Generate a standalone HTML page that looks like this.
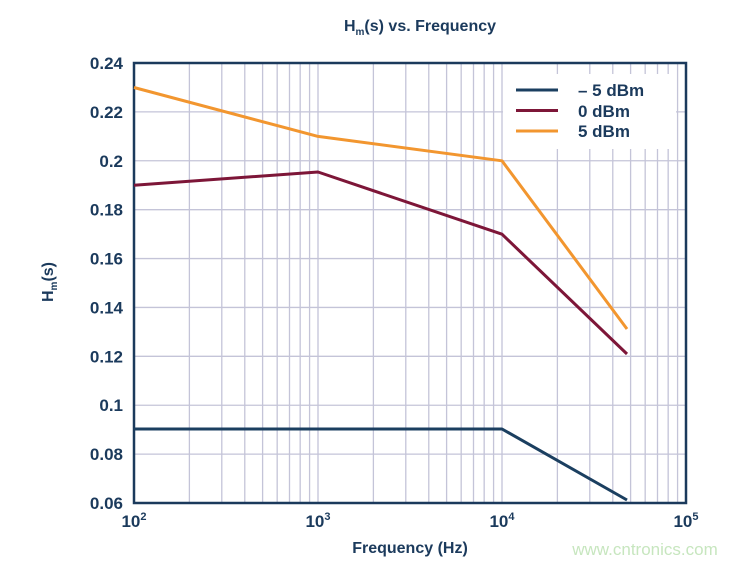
<!DOCTYPE html>
<html><head><style>
body{margin:0;background:#fff;}
svg{display:block;font-family:"Liberation Sans",Arial,sans-serif;font-weight:bold;}
</style></head><body>
<svg id="s" width="755" height="565" viewBox="0 0 755 565" xmlns="http://www.w3.org/2000/svg">
<rect width="755" height="565" fill="#fff"/>
<g id="grid" stroke="#c4c4d8" stroke-width="1.3"></g>
<rect x="503" y="74" width="173" height="75" fill="#fff"/>
<rect x="134" y="63" width="552" height="440" fill="none" stroke="#1b3a5c" stroke-width="2.5"/>
<g fill="none" stroke-width="3" stroke-linejoin="round">
<polyline stroke="#f2962f" points="134,87.5 318,136.4 502,160.8 627,329"/>
<polyline stroke="#7d1638" points="134,185.3 318,172 502,234.2 627,354"/>
<polyline stroke="#1b3f60" points="134,429 318,429 502,429 627,500"/>
</g>
<g stroke-width="3">
<line x1="516" y1="90" x2="558" y2="90" stroke="#1b3f60"/>
<line x1="516" y1="110.5" x2="558" y2="110.5" stroke="#7d1638"/>
<line x1="516" y1="131" x2="558" y2="131" stroke="#f2962f"/>
</g>
<g fill="#1b3a5c" font-size="17">
<text x="578" y="96">– 5 dBm</text>
<text x="578" y="117">0 dBm</text>
<text x="578" y="137">5 dBm</text>
</g>
<g id="yl" fill="#1b3a5c" font-size="17" text-anchor="end"></g>
<g fill="#1b3a5c" font-size="17" text-anchor="middle">
<text x="134" y="527">10<tspan font-size="11" dy="-7">2</tspan></text>
<text x="318" y="527">10<tspan font-size="11" dy="-7">3</tspan></text>
<text x="502" y="527">10<tspan font-size="11" dy="-7">4</tspan></text>
<text x="686" y="527">10<tspan font-size="11" dy="-7">5</tspan></text>
<text x="410" y="553" font-size="16">Frequency (Hz)</text>
<text x="420" y="31" font-size="16">H<tspan font-size="10" dy="4">m</tspan><tspan dy="-4">(s) vs. Frequency</tspan></text>
</g>
<text transform="translate(53,282) rotate(-90)" fill="#1b3a5c" font-size="16" text-anchor="middle">H<tspan font-size="10" dy="4">m</tspan><tspan dy="-4">(s)</tspan></text>
<text x="645" y="555" fill="#c7e6bf" font-size="17" font-weight="normal" text-anchor="middle">www.cntronics.com</text>
</svg>
<script>
var ns="http://www.w3.org/2000/svg",g=document.getElementById("grid"),yl=document.getElementById("yl");
function L(a,b,c,d){var l=document.createElementNS(ns,"line");l.setAttribute("x1",a);l.setAttribute("y1",b);l.setAttribute("x2",c);l.setAttribute("y2",d);g.appendChild(l);}
for(var dcd=0;dcd<3;dcd++){for(var k=1;k<10;k++){var x=134+184*dcd+184*Math.log10(k);L(x,63,x,503);}}
var labs=["0.24","0.22","0.2","0.18","0.16","0.14","0.12","0.1","0.08","0.06"];
for(var i=0;i<10;i++){var y=63+i*440/9;L(134,y,686,y);var t=document.createElementNS(ns,"text");t.setAttribute("x",123);t.setAttribute("y",y+6);t.textContent=labs[i];yl.appendChild(t);}
</script>
</body></html>
